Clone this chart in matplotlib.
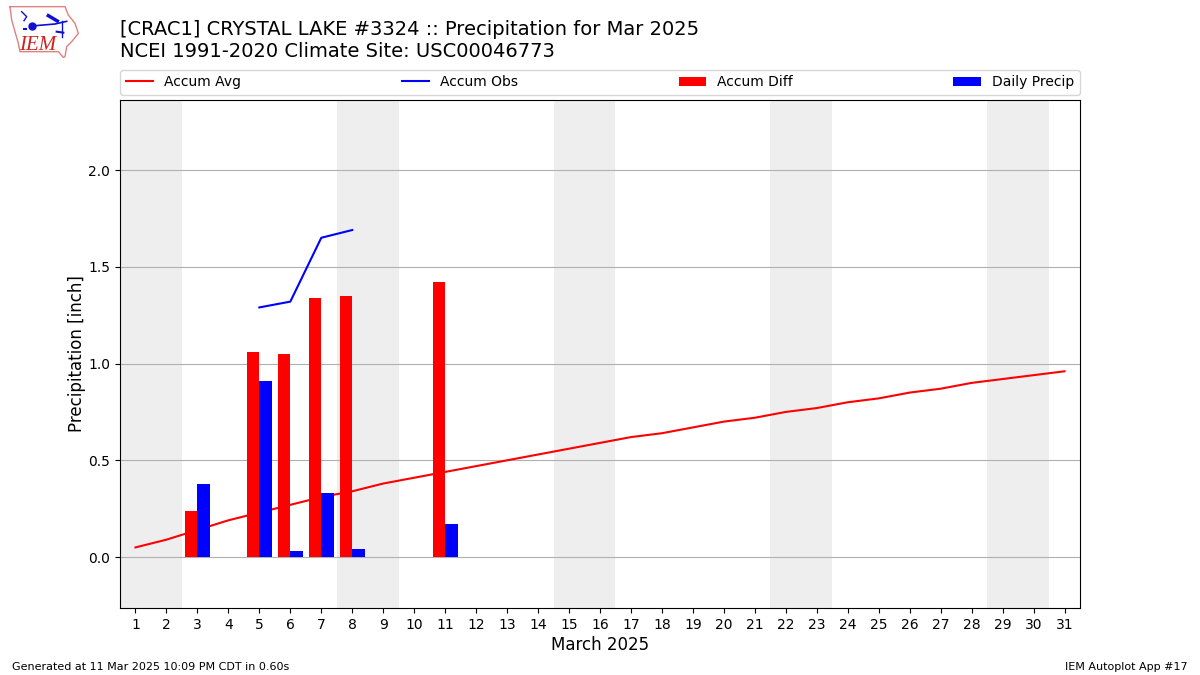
import numpy as np
from matplotlib import pyplot as plt

days = np.arange(1, 32)
accum_avg = [0.05, 0.09, 0.14, 0.19, 0.23, 0.27, 0.31, 0.34, 0.38, 0.41, 0.44,
             0.47, 0.50, 0.53, 0.56, 0.59, 0.62, 0.64, 0.67, 0.70, 0.72, 0.75,
             0.77, 0.80, 0.82, 0.85, 0.87, 0.90, 0.92, 0.94, 0.96]
obs_days = [5, 6, 7, 8]
accum_obs = [1.29, 1.32, 1.65, 1.69]
bar_days = [3, 5, 6, 7, 8, 11]
accum_diff = [0.24, 1.06, 1.05, 1.34, 1.35, 1.42]
daily_precip = [0.38, 0.91, 0.03, 0.33, 0.04, 0.17]
weekends = [(0.5, 2.5), (7.5, 9.5), (14.5, 16.5), (21.5, 23.5), (28.5, 30.5)]

fig = plt.figure(figsize=(12, 6.75), dpi=100)
ax = fig.add_axes([0.1, 0.0993, 0.8, 0.7526])

for start, end in weekends:
    ax.axvspan(start, end, color="#eeeeee", lw=0, zorder=0)

ax.plot(days, accum_avg, color="r", label="Accum Avg", zorder=2)
ax.plot(obs_days, accum_obs, color="b", label="Accum Obs", zorder=2)
ax.bar(np.array(bar_days) - 0.2, accum_diff, width=0.4, color="r", label="Accum Diff", zorder=3)
ax.bar(np.array(bar_days) + 0.2, daily_precip, width=0.4, color="b", label="Daily Precip", zorder=3)

ax.set_xlim(0.5, 31.5)
ax.set_ylim(-0.263, 2.362)
ax.set_xticks(days)
ax.set_yticks([0, 0.5, 1.0, 1.5, 2.0])
ax.set_axisbelow(True)
ax.grid(axis="y", zorder=1)
ax.set_xlabel("March 2025", fontsize=12, labelpad=3)
ax.set_ylabel("Precipitation [inch]", fontsize=12, labelpad=2)
ax.legend(ncol=4, loc="lower left", bbox_to_anchor=(0, 1.01, 1, 0.1), mode="expand",
          borderaxespad=0, fontsize=10)

fig.text(0.1, 0.9565, "[CRAC1] CRYSTAL LAKE #3324 :: Precipitation for Mar 2025", fontsize=14, va="center")
fig.text(0.1, 0.923, "NCEI 1991-2020 Climate Site: USC00046773", fontsize=14, va="center")
fig.text(0.01, 0.0125, "Generated at 11 Mar 2025 10:09 PM CDT in 0.60s", fontsize=8, va="center")
fig.text(0.99, 0.0125, "IEM Autoplot App #17", fontsize=8, ha="right", va="center")

# logo, rough copy of the iowa outline
logo = fig.add_axes([0, 1 - 70 / 675, 120 / 1200, 70 / 675])
logo.set_xlim(0, 360)
logo.set_ylim(210, 0)
logo.axis("off")
outline_x = [30, 195, 205, 225, 235, 215, 200, 195, 190, 175, 60, 55, 45, 35, 30]
outline_y = [20, 20, 45, 70, 100, 125, 140, 170, 172, 155, 155, 130, 95, 60, 20]
logo.plot(outline_x, outline_y, color="#e08080", lw=1)
logo.plot([95, 165, 200], [78, 72, 64], color="#1010d0", lw=1.2)
logo.plot([95], [78], "o", color="#1010d0", ms=5)
logo.plot([145, 172], [47, 63], color="#1010d0", lw=2.5)
logo.plot([65, 80, 72], [35, 50, 62], color="#1010d0", lw=1)
logo.plot([72, 78], [87, 87], color="#1010d0", lw=1.5)
logo.plot([185, 185], [64, 112], color="#1010d0", lw=1)
logo.plot([170, 190], [95, 98], color="#1010d0", lw=1.5)
logo.text(114, 135, "IEM", color="#d02020", fontsize=15, family="Liberation Serif",
          style="italic", ha="center", va="center")

fig.savefig("out.png")
